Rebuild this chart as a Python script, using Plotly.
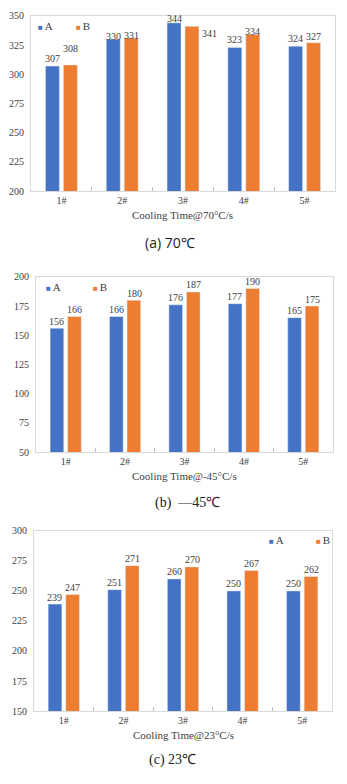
import plotly.graph_objects as go

categories = ["1#", "2#", "3#", "4#", "5#"]

a_70 = [307, 330, 344, 323, 324]
b_70 = [308, 331, 341, 334, 327]

a_m45 = [156, 166, 176, 177, 165]
b_m45 = [166, 180, 187, 190, 175]

a_23 = [239, 251, 260, 250, 250]
b_23 = [247, 271, 270, 267, 262]

y_ranges = [(200, 350), (50, 200), (150, 300)]
x_titles = ["Cooling Time@70°C/s", "Cooling Time@-45°C/s", "Cooling Time@23°C/s"]
captions = ["(a) 70℃", "(b)\u00a0\u00a0—45℃", "(c) 23℃"]
series_names = ["A", "B"]

BLUE = "#4472C4"
ORANGE = "#ED7D31"
TXT = "#404040"
SERIF = "Liberation Serif"
W, H = 347, 784

# panel boxes in pixels: (left, right, top, bottom)
boxes = [(31, 335, 10, 188), (36, 333, 275, 453), (34, 332, 533, 716)]
# legend key positions (left px of square, centre y px) for A and B
legend_keys = [((37, 20), (75, 20)), ((45, 285), (92, 285)),
               ((268, 542), (315, 542))]
# hand-placed value labels in the first panel: (dx, dy) pixel nudges
label_nudge_70 = [
    [(0, 8), (0, 3), (0, 4), (0, 8), (0, 8)],
    [(0, 16), (0, 3), (17, -7), (0, 3), (0, 6)],
]
BAR_HALF_PITCH = 9


def fy(px):
    return 1 - px / H


def fx(px):
    return px / W


fig = go.Figure()
series = [(a_70, b_70), (a_m45, b_m45), (a_23, b_23)]

for i, pair in enumerate(series):
    sfx = "" if i == 0 else str(i + 1)
    for s, (vals, col) in enumerate(zip(pair, (BLUE, ORANGE))):
        fig.add_trace(go.Bar(
            x=categories, y=vals, name=series_names[s], marker_color=col,
            xaxis=f"x{sfx}", yaxis=f"y{sfx}", showlegend=False, width=0.23,
        ))
        for k, (cat, v) in enumerate(zip(categories, vals)):
            dx, dy = label_nudge_70[s][k] if i == 0 else (0, 7)
            fig.add_annotation(
                text=str(v), x=cat, y=v, xref=f"x{sfx}", yref=f"y{sfx}",
                xshift=(-BAR_HALF_PITCH if s == 0 else BAR_HALF_PITCH) + dx,
                yshift=dy, yanchor="middle", showarrow=False,
                font=dict(family=SERIF, size=10, color=TXT))
    l, r, t, b = boxes[i]
    axis_common = dict(showline=True, mirror=True, linecolor="#d9d9d9",
                       linewidth=1, showgrid=False, zeroline=False,
                       tickfont=dict(family=SERIF, size=10, color=TXT))
    fig.layout[f"xaxis{sfx}"] = dict(
        domain=[fx(l), fx(r)], anchor=f"y{sfx}", ticks="inside",
        tickson="boundaries", ticklen=4, tickcolor="#bfbfbf", **axis_common)
    fig.layout[f"yaxis{sfx}"] = dict(
        domain=[fy(b), fy(t)], anchor=f"x{sfx}", range=list(y_ranges[i]),
        dtick=25, ticks="", ticklabelstandoff=4, **axis_common)
    # legend keys: small coloured square followed by the series name
    for (kx, ky), name, col in zip(legend_keys[i], series_names, (BLUE, ORANGE)):
        fig.add_annotation(
            text=f"<span style='color:{col};font-size:8px'>■ </span>{name}",
            x=fx(kx - 1), y=fy(ky), xref="paper", yref="paper",
            xanchor="left", yanchor="middle", showarrow=False,
            font=dict(family=SERIF, size=11, color=TXT))
    fig.add_annotation(
        text=x_titles[i], x=(fx(l) + fx(r)) / 2, y=fy(b + 24),
        xref="paper", yref="paper", showarrow=False, yanchor="middle",
        font=dict(family=SERIF, size=11, color=TXT))

caption_y = [240, 505, 766]
caption_x = [170, 188, 172]
caption_font = ["Open Sans", SERIF, SERIF]
for cap, cx, cy, cf in zip(captions, caption_x, caption_y, caption_font):
    fig.add_annotation(
        text=cap, x=fx(cx), y=fy(cy), xref="paper", yref="paper",
        showarrow=False, yanchor="middle",
        font=dict(family=cf, size=14, color="#222222"))

fig.update_layout(
    width=W, height=H, margin=dict(l=0, r=0, t=0, b=0),
    paper_bgcolor="white", plot_bgcolor="white", barmode="group",
    bargap=0.41, bargroupgap=0.12, showlegend=False,
)

fig.write_html("out.html")
